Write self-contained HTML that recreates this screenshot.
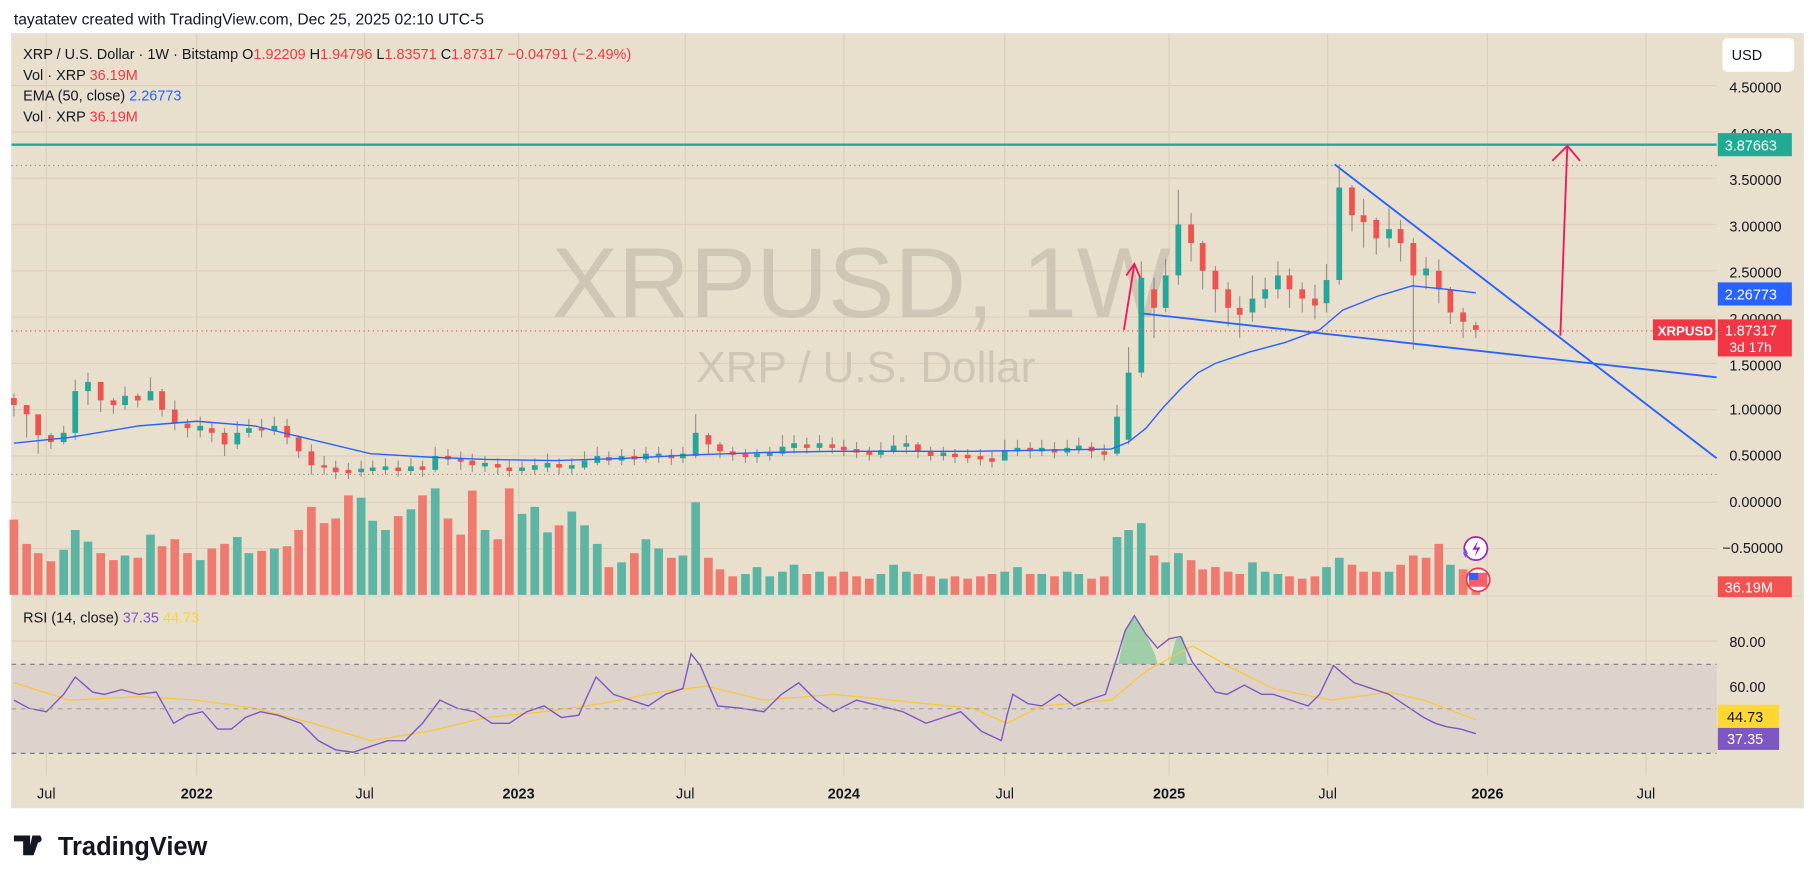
<!DOCTYPE html>
<html><head><meta charset="utf-8"><style>
html,body{margin:0;padding:0;background:#fff;width:1815px;height:883px;overflow:hidden}
svg{display:block}
text{font-family:"Liberation Sans","DejaVu Sans",sans-serif}
.u{stroke:#26a69a;stroke-width:5}
.d{stroke:#ef5350;stroke-width:5}
.vu{stroke:#5cb5a4;stroke-width:7.5}
.vd{stroke:#ee7a70;stroke-width:7.5}
</style></head><body>
<svg width="1815" height="883" viewBox="0 0 1568 763" preserveAspectRatio="none" xmlns="http://www.w3.org/2000/svg">
<rect width="1568" height="763" fill="#fff"/>
<text x="12" y="21" font-size="13.5" fill="#131722">tayatatev created with TradingView.com, Dec 25, 2025 02:10 UTC-5</text>
<rect x="10" y="29" width="1548" height="669" fill="#e9dfcd" stroke="#e4e4e4"/>
<g stroke="#dccfbc" stroke-width="1">
<path d="M40 29V670M170 29V670M315 29V670M448 29V670M592 29V670M729 29V670M868 29V670M1010 29V670M1147 29V670M1285 29V670M1422 29V670"/>
<path d="M10 74H1483M10 114H1483M10 154H1483M10 194H1483M10 234H1483M10 274H1483M10 314H1483M10 354H1483M10 394H1483M10 434H1483M10 474H1483M10 554H1483M10 593H1483M10 632H1483"/>
</g>
<rect x="10" y="574" width="1473" height="77" fill="#ddd0cc" opacity="0.9"/>
<!-- watermark -->
<text x="744" y="274" font-size="86" fill="#c9bfb0" fill-opacity="0.8" text-anchor="middle">XRPUSD, 1W</text>
<text x="748" y="330" font-size="38" fill="#c9bfb0" fill-opacity="0.8" text-anchor="middle">XRP / U.S. Dollar</text>
<!-- volume -->
<g>
<line class="vd" x1="12" y1="514" x2="12" y2="449"/>
<line class="vd" x1="23" y1="514" x2="23" y2="470"/>
<line class="vd" x1="33" y1="514" x2="33" y2="478"/>
<line class="vd" x1="44" y1="514" x2="44" y2="485"/>
<line class="vu" x1="55" y1="514" x2="55" y2="475"/>
<line class="vu" x1="65" y1="514" x2="65" y2="458"/>
<line class="vu" x1="76" y1="514" x2="76" y2="468"/>
<line class="vd" x1="87" y1="514" x2="87" y2="478"/>
<line class="vd" x1="98" y1="514" x2="98" y2="484"/>
<line class="vu" x1="108" y1="514" x2="108" y2="480"/>
<line class="vd" x1="119" y1="514" x2="119" y2="482"/>
<line class="vu" x1="130" y1="514" x2="130" y2="462"/>
<line class="vd" x1="140" y1="514" x2="140" y2="472"/>
<line class="vd" x1="151" y1="514" x2="151" y2="466"/>
<line class="vd" x1="162" y1="514" x2="162" y2="478"/>
<line class="vu" x1="173" y1="514" x2="173" y2="484"/>
<line class="vd" x1="183" y1="514" x2="183" y2="474"/>
<line class="vd" x1="194" y1="514" x2="194" y2="470"/>
<line class="vu" x1="205" y1="514" x2="205" y2="464"/>
<line class="vu" x1="215" y1="514" x2="215" y2="478"/>
<line class="vd" x1="226" y1="514" x2="226" y2="476"/>
<line class="vu" x1="237" y1="514" x2="237" y2="474"/>
<line class="vd" x1="248" y1="514" x2="248" y2="472"/>
<line class="vd" x1="258" y1="514" x2="258" y2="458"/>
<line class="vd" x1="269" y1="514" x2="269" y2="438"/>
<line class="vd" x1="280" y1="514" x2="280" y2="452"/>
<line class="vd" x1="290" y1="514" x2="290" y2="448"/>
<line class="vd" x1="301" y1="514" x2="301" y2="428"/>
<line class="vu" x1="312" y1="514" x2="312" y2="430"/>
<line class="vu" x1="322" y1="514" x2="322" y2="450"/>
<line class="vu" x1="333" y1="514" x2="333" y2="458"/>
<line class="vd" x1="344" y1="514" x2="344" y2="446"/>
<line class="vu" x1="355" y1="514" x2="355" y2="440"/>
<line class="vd" x1="365" y1="514" x2="365" y2="428"/>
<line class="vu" x1="376" y1="514" x2="376" y2="422"/>
<line class="vd" x1="387" y1="514" x2="387" y2="448"/>
<line class="vd" x1="398" y1="514" x2="398" y2="462"/>
<line class="vd" x1="408" y1="514" x2="408" y2="424"/>
<line class="vu" x1="419" y1="514" x2="419" y2="458"/>
<line class="vd" x1="430" y1="514" x2="430" y2="466"/>
<line class="vd" x1="440" y1="514" x2="440" y2="422"/>
<line class="vu" x1="451" y1="514" x2="451" y2="444"/>
<line class="vu" x1="462" y1="514" x2="462" y2="438"/>
<line class="vu" x1="473" y1="514" x2="473" y2="460"/>
<line class="vd" x1="483" y1="514" x2="483" y2="454"/>
<line class="vu" x1="494" y1="514" x2="494" y2="442"/>
<line class="vu" x1="505" y1="514" x2="505" y2="454"/>
<line class="vu" x1="516" y1="514" x2="516" y2="470"/>
<line class="vd" x1="526" y1="514" x2="526" y2="490"/>
<line class="vu" x1="537" y1="514" x2="537" y2="486"/>
<line class="vd" x1="548" y1="514" x2="548" y2="478"/>
<line class="vu" x1="558" y1="514" x2="558" y2="466"/>
<line class="vu" x1="569" y1="514" x2="569" y2="474"/>
<line class="vd" x1="580" y1="514" x2="580" y2="482"/>
<line class="vu" x1="590" y1="514" x2="590" y2="480"/>
<line class="vu" x1="601" y1="514" x2="601" y2="434"/>
<line class="vd" x1="612" y1="514" x2="612" y2="482"/>
<line class="vd" x1="622" y1="514" x2="622" y2="492"/>
<line class="vd" x1="633" y1="514" x2="633" y2="498"/>
<line class="vu" x1="644" y1="514" x2="644" y2="496"/>
<line class="vu" x1="654" y1="514" x2="654" y2="490"/>
<line class="vu" x1="665" y1="514" x2="665" y2="498"/>
<line class="vu" x1="676" y1="514" x2="676" y2="494"/>
<line class="vu" x1="686" y1="514" x2="686" y2="488"/>
<line class="vd" x1="697" y1="514" x2="697" y2="496"/>
<line class="vu" x1="708" y1="514" x2="708" y2="494"/>
<line class="vd" x1="719" y1="514" x2="719" y2="498"/>
<line class="vd" x1="729" y1="514" x2="729" y2="494"/>
<line class="vd" x1="740" y1="514" x2="740" y2="498"/>
<line class="vd" x1="751" y1="514" x2="751" y2="500"/>
<line class="vu" x1="761" y1="514" x2="761" y2="496"/>
<line class="vu" x1="772" y1="514" x2="772" y2="488"/>
<line class="vu" x1="783" y1="514" x2="783" y2="494"/>
<line class="vd" x1="793" y1="514" x2="793" y2="496"/>
<line class="vd" x1="804" y1="514" x2="804" y2="498"/>
<line class="vu" x1="815" y1="514" x2="815" y2="500"/>
<line class="vd" x1="825" y1="514" x2="825" y2="498"/>
<line class="vd" x1="836" y1="514" x2="836" y2="500"/>
<line class="vd" x1="847" y1="514" x2="847" y2="498"/>
<line class="vd" x1="857" y1="514" x2="857" y2="496"/>
<line class="vu" x1="868" y1="514" x2="868" y2="494"/>
<line class="vu" x1="879" y1="514" x2="879" y2="490"/>
<line class="vd" x1="890" y1="514" x2="890" y2="496"/>
<line class="vu" x1="900" y1="514" x2="900" y2="496"/>
<line class="vd" x1="911" y1="514" x2="911" y2="498"/>
<line class="vu" x1="922" y1="514" x2="922" y2="494"/>
<line class="vu" x1="932" y1="514" x2="932" y2="496"/>
<line class="vd" x1="943" y1="514" x2="943" y2="500"/>
<line class="vd" x1="954" y1="514" x2="954" y2="498"/>
<line class="vu" x1="965" y1="514" x2="965" y2="464"/>
<line class="vu" x1="975" y1="514" x2="975" y2="458"/>
<line class="vu" x1="986" y1="514" x2="986" y2="452"/>
<line class="vd" x1="997" y1="514" x2="997" y2="480"/>
<line class="vu" x1="1007" y1="514" x2="1007" y2="486"/>
<line class="vu" x1="1018" y1="514" x2="1018" y2="478"/>
<line class="vd" x1="1029" y1="514" x2="1029" y2="484"/>
<line class="vd" x1="1039" y1="514" x2="1039" y2="492"/>
<line class="vd" x1="1050" y1="514" x2="1050" y2="490"/>
<line class="vd" x1="1061" y1="514" x2="1061" y2="494"/>
<line class="vd" x1="1071" y1="514" x2="1071" y2="496"/>
<line class="vu" x1="1082" y1="514" x2="1082" y2="486"/>
<line class="vu" x1="1093" y1="514" x2="1093" y2="494"/>
<line class="vu" x1="1104" y1="514" x2="1104" y2="496"/>
<line class="vd" x1="1114" y1="514" x2="1114" y2="498"/>
<line class="vd" x1="1125" y1="514" x2="1125" y2="500"/>
<line class="vd" x1="1136" y1="514" x2="1136" y2="498"/>
<line class="vu" x1="1146" y1="514" x2="1146" y2="490"/>
<line class="vu" x1="1157" y1="514" x2="1157" y2="482"/>
<line class="vd" x1="1168" y1="514" x2="1168" y2="488"/>
<line class="vd" x1="1178" y1="514" x2="1178" y2="494"/>
<line class="vd" x1="1189" y1="514" x2="1189" y2="494"/>
<line class="vu" x1="1200" y1="514" x2="1200" y2="494"/>
<line class="vd" x1="1210" y1="514" x2="1210" y2="488"/>
<line class="vd" x1="1221" y1="514" x2="1221" y2="480"/>
<line class="vd" x1="1232" y1="514" x2="1232" y2="482"/>
<line class="vd" x1="1243" y1="514" x2="1243" y2="470"/>
<line class="vu" x1="1253" y1="514" x2="1253" y2="488"/>
<line class="vd" x1="1264" y1="514" x2="1264" y2="492"/>
<line class="vd" x1="1275" y1="514" x2="1275" y2="500"/>
</g>
<!-- candles (wicks) -->
<path d="M12 340V360M23 350V378M33 368V392M44 374V388M55 368V384M65 328V380M76 322V350M87 340V356M98 344V358M108 334V354M119 340V352M130 326V346M140 336V360M151 346V372M162 362V378M173 360V378M183 366V382M194 370V394M205 364V388M215 362V378M226 362V378M237 360V376M248 362V384M258 376V396M269 384V410M280 394V410M290 398V414M301 400V414M312 398V412M322 398V410M333 396V410M344 398V412M355 396V410M365 398V412M376 386V408M387 388V402M398 390V406M408 392V408M419 394V408M430 396V410M440 398V412M451 398V410M462 396V410M473 392V408M483 396V410M494 396V410M505 390V406M516 386V402M526 390V402M537 388V402M548 388V402M558 386V400M569 386V400M580 388V402M590 386V400M601 358V396M612 374V392M622 382V396M633 386V398M644 388V400M654 388V400M665 386V398M676 376V394M686 376V392M697 378V392M708 376V390M719 378V392M729 380V394M740 382V396M751 386V398M761 382V396M772 376V392M783 376V392M793 382V396M804 386V398M815 386V398M825 388V400M836 388V400M847 388V402M857 390V404M868 380V396M879 380V394M890 382V396M900 380V394M911 382V396M922 380V394M932 378V392M943 382V396M954 384V398M965 350V394M975 300V384M986 226V326M997 240V292M1007 224V270M1018 164V246M1029 184V226M1039 208V250M1050 230V270M1061 244V282M1071 256V292M1082 238V278M1093 240V266M1104 226V258M1114 232V266M1125 244V270M1136 246V276M1146 228V270M1157 142V246M1168 160V200M1178 172V214M1189 188V220M1200 180V214M1210 190V226M1221 206V302M1232 222V250M1243 224V262M1253 248V280M1264 266V292M1275 278V292" stroke="#555" stroke-width="1" opacity="0.55"/>
<g>
<line class="d" x1="12" y1="344" x2="12" y2="350"/>
<line class="d" x1="23" y1="350" x2="23" y2="358"/>
<line class="d" x1="33" y1="358" x2="33" y2="376"/>
<line class="d" x1="44" y1="376" x2="44" y2="382"/>
<line class="u" x1="55" y1="382" x2="55" y2="374"/>
<line class="u" x1="65" y1="374" x2="65" y2="338"/>
<line class="u" x1="76" y1="338" x2="76" y2="330"/>
<line class="d" x1="87" y1="330" x2="87" y2="346"/>
<line class="d" x1="98" y1="346" x2="98" y2="350"/>
<line class="u" x1="108" y1="350" x2="108" y2="342"/>
<line class="d" x1="119" y1="342" x2="119" y2="346"/>
<line class="u" x1="130" y1="346" x2="130" y2="338"/>
<line class="d" x1="140" y1="338" x2="140" y2="354"/>
<line class="d" x1="151" y1="354" x2="151" y2="366"/>
<line class="d" x1="162" y1="366" x2="162" y2="370"/>
<line class="u" x1="173" y1="372" x2="173" y2="368"/>
<line class="d" x1="183" y1="370" x2="183" y2="374"/>
<line class="d" x1="194" y1="374" x2="194" y2="384"/>
<line class="u" x1="205" y1="384" x2="205" y2="374"/>
<line class="u" x1="215" y1="374" x2="215" y2="370"/>
<line class="d" x1="226" y1="370" x2="226" y2="372"/>
<line class="u" x1="237" y1="372" x2="237" y2="368"/>
<line class="d" x1="248" y1="368" x2="248" y2="378"/>
<line class="d" x1="258" y1="378" x2="258" y2="390"/>
<line class="d" x1="269" y1="390" x2="269" y2="402"/>
<line class="d" x1="280" y1="402" x2="280" y2="404"/>
<line class="d" x1="290" y1="404" x2="290" y2="408"/>
<line class="d" x1="301" y1="406" x2="301" y2="409"/>
<line class="u" x1="312" y1="408" x2="312" y2="405"/>
<line class="u" x1="322" y1="407" x2="322" y2="404"/>
<line class="u" x1="333" y1="406" x2="333" y2="403"/>
<line class="d" x1="344" y1="404" x2="344" y2="407"/>
<line class="u" x1="355" y1="407" x2="355" y2="403"/>
<line class="d" x1="365" y1="403" x2="365" y2="406"/>
<line class="u" x1="376" y1="406" x2="376" y2="394"/>
<line class="d" x1="387" y1="394" x2="387" y2="397"/>
<line class="d" x1="398" y1="396" x2="398" y2="399"/>
<line class="d" x1="408" y1="398" x2="408" y2="402"/>
<line class="u" x1="419" y1="403" x2="419" y2="400"/>
<line class="d" x1="430" y1="401" x2="430" y2="404"/>
<line class="d" x1="440" y1="404" x2="440" y2="407"/>
<line class="u" x1="451" y1="407" x2="451" y2="404"/>
<line class="u" x1="462" y1="406" x2="462" y2="402"/>
<line class="u" x1="473" y1="404" x2="473" y2="400"/>
<line class="d" x1="483" y1="401" x2="483" y2="404"/>
<line class="u" x1="494" y1="405" x2="494" y2="402"/>
<line class="u" x1="505" y1="404" x2="505" y2="398"/>
<line class="u" x1="516" y1="400" x2="516" y2="394"/>
<line class="d" x1="526" y1="395" x2="526" y2="398"/>
<line class="u" x1="537" y1="398" x2="537" y2="394"/>
<line class="d" x1="548" y1="394" x2="548" y2="397"/>
<line class="u" x1="558" y1="397" x2="558" y2="392"/>
<line class="u" x1="569" y1="395" x2="569" y2="392"/>
<line class="d" x1="580" y1="393" x2="580" y2="396"/>
<line class="u" x1="590" y1="396" x2="590" y2="392"/>
<line class="u" x1="601" y1="394" x2="601" y2="374"/>
<line class="d" x1="612" y1="376" x2="612" y2="384"/>
<line class="d" x1="622" y1="384" x2="622" y2="390"/>
<line class="d" x1="633" y1="390" x2="633" y2="393"/>
<line class="d" x1="644" y1="392" x2="644" y2="395"/>
<line class="u" x1="654" y1="395" x2="654" y2="392"/>
<line class="u" x1="665" y1="394" x2="665" y2="391"/>
<line class="u" x1="676" y1="392" x2="676" y2="386"/>
<line class="u" x1="686" y1="387" x2="686" y2="383"/>
<line class="d" x1="697" y1="384" x2="697" y2="387"/>
<line class="u" x1="708" y1="387" x2="708" y2="383"/>
<line class="d" x1="719" y1="384" x2="719" y2="387"/>
<line class="d" x1="729" y1="386" x2="729" y2="389"/>
<line class="d" x1="740" y1="388" x2="740" y2="391"/>
<line class="d" x1="751" y1="390" x2="751" y2="393"/>
<line class="u" x1="761" y1="393" x2="761" y2="389"/>
<line class="u" x1="772" y1="390" x2="772" y2="385"/>
<line class="u" x1="783" y1="386" x2="783" y2="383"/>
<line class="d" x1="793" y1="384" x2="793" y2="390"/>
<line class="d" x1="804" y1="390" x2="804" y2="394"/>
<line class="u" x1="815" y1="394" x2="815" y2="391"/>
<line class="d" x1="825" y1="392" x2="825" y2="395"/>
<line class="d" x1="836" y1="393" x2="836" y2="396"/>
<line class="d" x1="847" y1="394" x2="847" y2="397"/>
<line class="d" x1="857" y1="396" x2="857" y2="399"/>
<line class="u" x1="868" y1="398" x2="868" y2="389"/>
<line class="u" x1="879" y1="390" x2="879" y2="387"/>
<line class="d" x1="890" y1="387" x2="890" y2="390"/>
<line class="u" x1="900" y1="390" x2="900" y2="387"/>
<line class="d" x1="911" y1="388" x2="911" y2="391"/>
<line class="u" x1="922" y1="391" x2="922" y2="387"/>
<line class="u" x1="932" y1="388" x2="932" y2="385"/>
<line class="d" x1="943" y1="386" x2="943" y2="390"/>
<line class="d" x1="954" y1="390" x2="954" y2="393"/>
<line class="u" x1="965" y1="392" x2="965" y2="360"/>
<line class="u" x1="975" y1="380" x2="975" y2="322"/>
<line class="u" x1="986" y1="322" x2="986" y2="240"/>
<line class="d" x1="997" y1="250" x2="997" y2="266"/>
<line class="u" x1="1007" y1="266" x2="1007" y2="238"/>
<line class="u" x1="1018" y1="238" x2="1018" y2="194"/>
<line class="d" x1="1029" y1="194" x2="1029" y2="210"/>
<line class="d" x1="1039" y1="210" x2="1039" y2="234"/>
<line class="d" x1="1050" y1="234" x2="1050" y2="250"/>
<line class="d" x1="1061" y1="250" x2="1061" y2="266"/>
<line class="d" x1="1071" y1="266" x2="1071" y2="272"/>
<line class="u" x1="1082" y1="270" x2="1082" y2="258"/>
<line class="u" x1="1093" y1="258" x2="1093" y2="250"/>
<line class="u" x1="1104" y1="250" x2="1104" y2="238"/>
<line class="d" x1="1114" y1="238" x2="1114" y2="250"/>
<line class="d" x1="1125" y1="250" x2="1125" y2="258"/>
<line class="d" x1="1136" y1="258" x2="1136" y2="264"/>
<line class="u" x1="1146" y1="262" x2="1146" y2="242"/>
<line class="u" x1="1157" y1="242" x2="1157" y2="162"/>
<line class="d" x1="1168" y1="162" x2="1168" y2="186"/>
<line class="d" x1="1178" y1="186" x2="1178" y2="192"/>
<line class="d" x1="1189" y1="190" x2="1189" y2="206"/>
<line class="u" x1="1200" y1="206" x2="1200" y2="198"/>
<line class="d" x1="1210" y1="198" x2="1210" y2="210"/>
<line class="d" x1="1221" y1="210" x2="1221" y2="238"/>
<line class="u" x1="1232" y1="238" x2="1232" y2="232"/>
<line class="d" x1="1243" y1="234" x2="1243" y2="250"/>
<line class="d" x1="1253" y1="250" x2="1253" y2="270"/>
<line class="d" x1="1264" y1="270" x2="1264" y2="278"/>
<line class="d" x1="1275" y1="281" x2="1275" y2="285"/>
</g>
<!-- EMA -->
<polyline fill="none" stroke="#2962ff" stroke-width="1.2" points="12,383 60,378 120,368 170,364 220,368 270,380 320,392 370,395 420,397 480,398 540,396 600,393 660,391 720,390 780,390 840,390 900,389 960,388 975,382 990,370 1005,352 1020,336 1035,322 1050,314 1080,304 1110,296 1140,285 1160,268 1190,256 1220,247 1250,250 1275,253"/>
<!-- RSI -->
<polygon points="966,574 972,545 980,532 990,548 998,566 1000,574" fill="#7fc89a" opacity="0.7"/>
<polygon points="1010,574 1016,552 1022,550 1026,574" fill="#7fc89a" opacity="0.7"/>
<polyline fill="none" stroke="#f7c934" stroke-width="1.1" points="12,590 60,605 120,602 170,605 220,612 270,625 320,640 370,632 420,620 470,615 520,608 570,598 610,593 660,605 720,600 780,606 840,612 870,625 900,610 960,605 990,580 1030,558 1060,575 1100,595 1150,605 1200,598 1230,605 1275,622"/>
<polyline fill="none" stroke="#7e57c2" stroke-width="1.2" points="12,605 25,612 40,615 55,600 65,585 80,598 90,600 105,596 120,600 135,598 150,625 162,618 175,615 188,630 200,630 212,620 225,615 240,618 260,625 275,640 290,648 305,650 320,645 335,640 350,640 365,625 380,605 395,612 410,615 425,625 440,625 455,615 470,610 485,620 500,618 508,600 515,585 522,592 530,600 545,605 560,610 575,600 590,595 597,565 605,575 620,610 640,612 660,615 675,600 690,590 705,605 720,615 740,605 760,610 780,615 800,625 815,620 830,615 848,632 865,640 870,618 875,600 888,608 900,610 915,600 928,610 940,605 955,600 966,565 972,545 980,532 990,548 1000,560 1010,552 1020,550 1030,572 1040,585 1050,598 1060,600 1075,592 1090,600 1100,600 1115,605 1130,610 1140,600 1152,575 1160,582 1170,590 1185,595 1200,600 1215,610 1230,620 1240,625 1250,628 1262,630 1275,634"/>
<line x1="10" y1="515" x2="1558" y2="515" stroke="#d8d8d8"/>
<line x1="10" y1="574" x2="1483" y2="574" stroke="#787b86" stroke-dasharray="4,4"/>
<line x1="10" y1="612.5" x2="1483" y2="612.5" stroke="#a0a0a0" stroke-dasharray="4,4"/>
<line x1="10" y1="651" x2="1483" y2="651" stroke="#787b86" stroke-dasharray="4,4"/>
<!-- drawings -->
<line x1="10" y1="143" x2="1483" y2="143" stroke="#888" stroke-dasharray="1,3"/>
<line x1="10" y1="410" x2="1483" y2="410" stroke="#888" stroke-dasharray="1,3"/>
<line x1="10" y1="286" x2="1483" y2="286" stroke="#f23645" stroke-dasharray="1,3"/>
<line x1="10" y1="125" x2="1483" y2="125" stroke="#22ab94" stroke-width="2"/>
<line x1="1153" y1="142" x2="1483" y2="396" stroke="#2962ff" stroke-width="1.6"/>
<line x1="988" y1="271" x2="1483" y2="326" stroke="#2962ff" stroke-width="1.6"/>
<g stroke="#f0185a" stroke-width="1.6" fill="none">
<line x1="971" y1="285" x2="980" y2="228"/><polyline points="973,238 980,228 985,240"/>
<line x1="1348" y1="290" x2="1354" y2="126"/><polyline points="1341,139 1354,126 1365,139"/>
</g>
<!-- legend -->
<g font-size="12.5" fill="#131722">
<text x="20" y="51">XRP / U.S. Dollar · 1W · Bitstamp  O<tspan fill="#f23645">1.92209</tspan>  H<tspan fill="#f23645">1.94796</tspan>  L<tspan fill="#f23645">1.83571</tspan>  C<tspan fill="#f23645">1.87317</tspan>  <tspan fill="#f23645">−0.04791 (−2.49%)</tspan></text>
<text x="20" y="69">Vol · XRP <tspan fill="#f23645">36.19M</tspan></text>
<text x="20" y="87">EMA (50, close) <tspan fill="#2962ff">2.26773</tspan></text>
<text x="20" y="105">Vol · XRP <tspan fill="#f23645">36.19M</tspan></text>
<text x="20" y="538">RSI (14, close) <tspan fill="#7e57c2">37.35</tspan> <tspan fill="#f7d33c">44.73</tspan></text>
</g>
<!-- price axis -->
<rect x="1488" y="33" width="62" height="29" rx="4" fill="#fff"/>
<text x="1496" y="52" font-size="12.5" fill="#131722">USD</text>
<g font-size="12.5" fill="#131722">
<text x="1494" y="80">4.50000</text><text x="1494" y="120">4.00000</text>
<text x="1494" y="160">3.50000</text><text x="1494" y="200">3.00000</text>
<text x="1494" y="240">2.50000</text><text x="1494" y="280">2.00000</text>
<text x="1494" y="320">1.50000</text><text x="1494" y="358">1.00000</text>
<text x="1494" y="398">0.50000</text><text x="1494" y="438">0.00000</text>
<text x="1488" y="478">−0.50000</text>
<text x="1494" y="559">80.00</text><text x="1494" y="598">60.00</text>
</g>
<rect x="1484" y="115" width="64" height="20" fill="#22ab94"/><text x="1490" y="130" font-size="12.5" fill="#fff">3.87663</text>
<rect x="1484" y="244" width="64" height="20" fill="#2962ff"/><text x="1490" y="259" font-size="12.5" fill="#fff">2.26773</text>
<rect x="1428" y="276" width="54" height="18" fill="#f23645"/><text x="1432" y="290" font-size="11.5" font-weight="bold" fill="#fff">XRPUSD</text>
<rect x="1484" y="276" width="64" height="32" fill="#f23645"/><text x="1490" y="290" font-size="12.5" fill="#fff">1.87317</text><text x="1494" y="304" font-size="12" fill="#fff">3d 17h</text>
<rect x="1484" y="498" width="64" height="18" fill="#f05350"/><text x="1490" y="512" font-size="12.5" fill="#fff">36.19M</text>
<rect x="1484" y="609" width="53" height="20" fill="#fdd835"/><text x="1492" y="624" font-size="12.5" fill="#131722">44.73</text>
<rect x="1484" y="629" width="53" height="19" fill="#7e57c2"/><text x="1492" y="643" font-size="12.5" fill="#fff">37.35</text>
<!-- icons -->
<circle cx="1275" cy="474" r="10" fill="#fff" stroke="#9c27b0" stroke-width="1.5"/><path d="M1277 467l-5 8h4l-2 6 5-8h-4z" fill="#9c27b0"/><path d="M1264 478l2 -4 2 4 -2 4z" fill="#7c4dff"/>
<circle cx="1277" cy="501" r="10" fill="#fff" stroke="#f23645" stroke-width="1.5"/><rect x="1269" y="495" width="16" height="12" fill="#f23645" opacity="0.8"/><rect x="1269" y="495" width="8" height="6" fill="#2962ff"/>
<!-- time axis -->
<g font-size="12.5" fill="#131722" text-anchor="middle">
<text x="40" y="690">Jul</text><text x="170" y="690" font-weight="bold">2022</text>
<text x="315" y="690">Jul</text><text x="448" y="690" font-weight="bold">2023</text>
<text x="592" y="690">Jul</text><text x="729" y="690" font-weight="bold">2024</text>
<text x="868" y="690">Jul</text><text x="1010" y="690" font-weight="bold">2025</text>
<text x="1147" y="690">Jul</text><text x="1285" y="690" font-weight="bold">2026</text>
<text x="1422" y="690">Jul</text>
</g>
<!-- logo -->
<path d="M12 722h14v17h-6v-12h-8z M28 722h7l-6 17h-5z" fill="#131722"/><circle cx="33" cy="725" r="3" fill="#131722"/>
<text x="50" y="739" font-size="22" font-weight="bold" fill="#131722">TradingView</text>
</svg>
</body></html>
